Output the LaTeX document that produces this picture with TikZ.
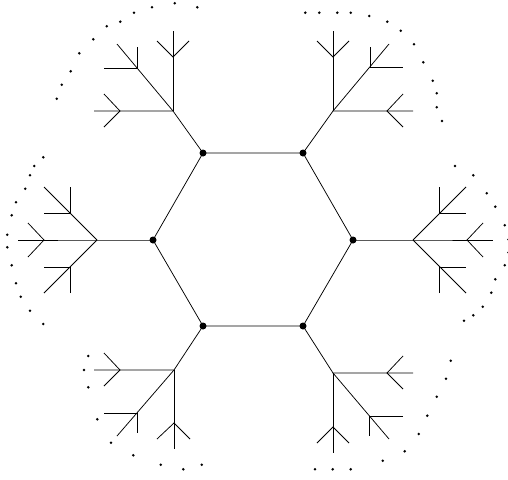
\documentclass[tikz,border=0pt]{standalone}
\begin{document}
\begin{tikzpicture}[x=1pt,y=-1pt,
  edge/.style={line width=0.75pt,black},
  vtx/.style={circle,fill=black,inner sep=0pt,minimum size=7pt},
  dotpt/.style={circle,fill=black,inner sep=0pt,minimum size=2.8pt}]
\useasboundingbox (0,0) rectangle (508,479);
\clip (0,0) rectangle (508,479);
% hexagon vertices
\node[vtx] (v1) at (153,240) {};
\node[vtx] (v2) at (203,153) {};
\node[vtx] (v3) at (303,153) {};
\node[vtx] (v4) at (353,240) {};
\node[vtx] (v5) at (303,326) {};
\node[vtx] (v6) at (203,326) {};
\draw[edge] (v1.center) -- (v2.center) -- (v3.center) -- (v4.center) -- (v5.center) -- (v6.center) -- cycle;
% left tree
\coordinate (LB) at (97,240);
\coordinate (LS) at (18,240); \coordinate (LSa) at (44,240);
\coordinate (LSa1) at (28,223); \coordinate (LSa2) at (28,257);
\coordinate (LU) at (44,187); \coordinate (LUm) at (70,213);
\coordinate (LU1) at (70,187); \coordinate (LU2) at (44,213);
\coordinate (LD) at (44,293); \coordinate (LDm) at (70,267);
\coordinate (LD1) at (70,293); \coordinate (LD2) at (44,267);
\draw[edge] (v1.center) -- (LB) -- (LS);
\draw[edge] (LSa1) -- (LSa) -- (LSa2);
\draw[edge] (LB) -- (LU); \draw[edge] (LU1) -- (LUm) -- (LU2);
\draw[edge] (LB) -- (LD); \draw[edge] (LD1) -- (LDm) -- (LD2);
% upper-left tree
\coordinate (AB) at (173,111);
\coordinate (AH) at (94,111); \coordinate (AHa) at (120,111);
\coordinate (AH1) at (104,94); \coordinate (AH2) at (104,127);
\coordinate (AV) at (173,31); \coordinate (AVa) at (173,57);
\coordinate (AV1) at (157,41); \coordinate (AV2) at (189,41);
\coordinate (AD) at (117,44); \coordinate (ADm) at (137,68);
\coordinate (AD1) at (137,47); \coordinate (AD2) at (104,68);
\draw[edge] (v2.center) -- (AB) -- (AH); \draw[edge] (AH1) -- (AHa) -- (AH2);
\draw[edge] (AB) -- (AV); \draw[edge] (AV1) -- (AVa) -- (AV2);
\draw[edge] (AB) -- (AD); \draw[edge] (AD1) -- (ADm) -- (AD2);
% upper-right tree
\coordinate (BB) at (333,111);
\coordinate (BH) at (413,111); \coordinate (BHa) at (387,111);
\coordinate (BH1) at (403,94); \coordinate (BH2) at (403,127);
\coordinate (BV) at (333,31); \coordinate (BVa) at (333,57);
\coordinate (BV1) at (317,41); \coordinate (BV2) at (349,41);
\coordinate (BD) at (389,44); \coordinate (BDm) at (370,67);
\coordinate (BD1) at (370,47); \coordinate (BD2) at (403,67);
\draw[edge] (v3.center) -- (BB) -- (BH); \draw[edge] (BH1) -- (BHa) -- (BH2);
\draw[edge] (BB) -- (BV); \draw[edge] (BV1) -- (BVa) -- (BV2);
\draw[edge] (BB) -- (BD); \draw[edge] (BD1) -- (BDm) -- (BD2);
% right tree
\coordinate (RB) at (413,240);
\coordinate (RS) at (493,240); \coordinate (RSa) at (467,240);
\coordinate (RSa1) at (483,223); \coordinate (RSa2) at (483,257);
\coordinate (RU) at (466,187); \coordinate (RUm) at (439,213);
\coordinate (RU1) at (439,187); \coordinate (RU2) at (466,213);
\coordinate (RD) at (466,293); \coordinate (RDm) at (439,267);
\coordinate (RD1) at (439,293); \coordinate (RD2) at (466,267);
\draw[edge] (v4.center) -- (RB) -- (RS);
\draw[edge] (RSa1) -- (RSa) -- (RSa2);
\draw[edge] (RB) -- (RU); \draw[edge] (RU1) -- (RUm) -- (RU2);
\draw[edge] (RB) -- (RD); \draw[edge] (RD1) -- (RDm) -- (RD2);
% bottom-left tree
\coordinate (CB) at (174,370);
\coordinate (CH) at (94,370); \coordinate (CHa) at (120,370);
\coordinate (CH1) at (104,353); \coordinate (CH2) at (104,386);
\coordinate (CV) at (174,449); \coordinate (CVa) at (174,423);
\coordinate (CV1) at (157,439); \coordinate (CV2) at (190,439);
\coordinate (CD) at (117,436); \coordinate (CDm) at (137,413);
\coordinate (CD1) at (104,413); \coordinate (CD2) at (137,433);
\draw[edge] (v6.center) -- (CB) -- (CH); \draw[edge] (CH1) -- (CHa) -- (CH2);
\draw[edge] (CB) -- (CV); \draw[edge] (CV1) -- (CVa) -- (CV2);
\draw[edge] (CB) -- (CD); \draw[edge] (CD1) -- (CDm) -- (CD2);
% bottom-right tree
\coordinate (DB) at (333,373);
\coordinate (DH) at (413,373); \coordinate (DHa) at (387,373);
\coordinate (DH1) at (403,356); \coordinate (DH2) at (403,389);
\coordinate (DV) at (333,453); \coordinate (DVa) at (333,427);
\coordinate (DV1) at (317,443); \coordinate (DV2) at (349,443);
\coordinate (DD) at (389,439); \coordinate (DDm) at (369,416);
\coordinate (DD1) at (403,416); \coordinate (DD2) at (369,436);
\draw[edge] (v5.center) -- (DB) -- (DH); \draw[edge] (DH1) -- (DHa) -- (DH2);
\draw[edge] (DB) -- (DV); \draw[edge] (DV1) -- (DVa) -- (DV2);
\draw[edge] (DB) -- (DD); \draw[edge] (DD1) -- (DDm) -- (DD2);
% dotted arcs
\foreach \x/\y in {43.3/157.3,34.3/166,30/175.3,25.3/188.7,16/202.3,11.7/215.3,7.3/234.7,7.3/247.3,11.7/265.3,16/283.3,20.7/296.7,30/310.7,43.3/324,
  56.7/98.7,61.7/84.7,70.7/71.3,79.3/53.3,93.3/39.3,106.7/26.3,120.3/21.7,134/12.7,152/7.3,174.7/3.3,197.3/7.3,
  305.3/12.7,319.3/12.7,337.3/12.7,350.7/12.7,369.3/16,387.3/21.7,400.7/30.7,414/44.3,423.3/62.3,432.7/80.7,436.7/93.3,436.7/107.3,442/121,
  455/166,473.3/175.3,486.7/193.3,495.3/206.7,504.7/225.3,508.5/239.5,508.5/252.5,504.7/265.3,495.3/279.3,491.3/292.7,482.7/306.7,473.3/315.3,464/320.7,
  88.3/356,84/370,88.3/387.3,97.3/419.3,111/442.7,133.3/455.3,160.7/464.7,183.3/469.3,201.7/464.7,
  450.7/360.7,446/378.7,436.7/396.7,427.3/415.7,418.7/434,404.7/451.3,382.7/460.7,350.7/469.3,332.7/469.3,315/469.3}
  \fill (\x,\y) circle (1.4pt);
\end{tikzpicture}
\end{document}
